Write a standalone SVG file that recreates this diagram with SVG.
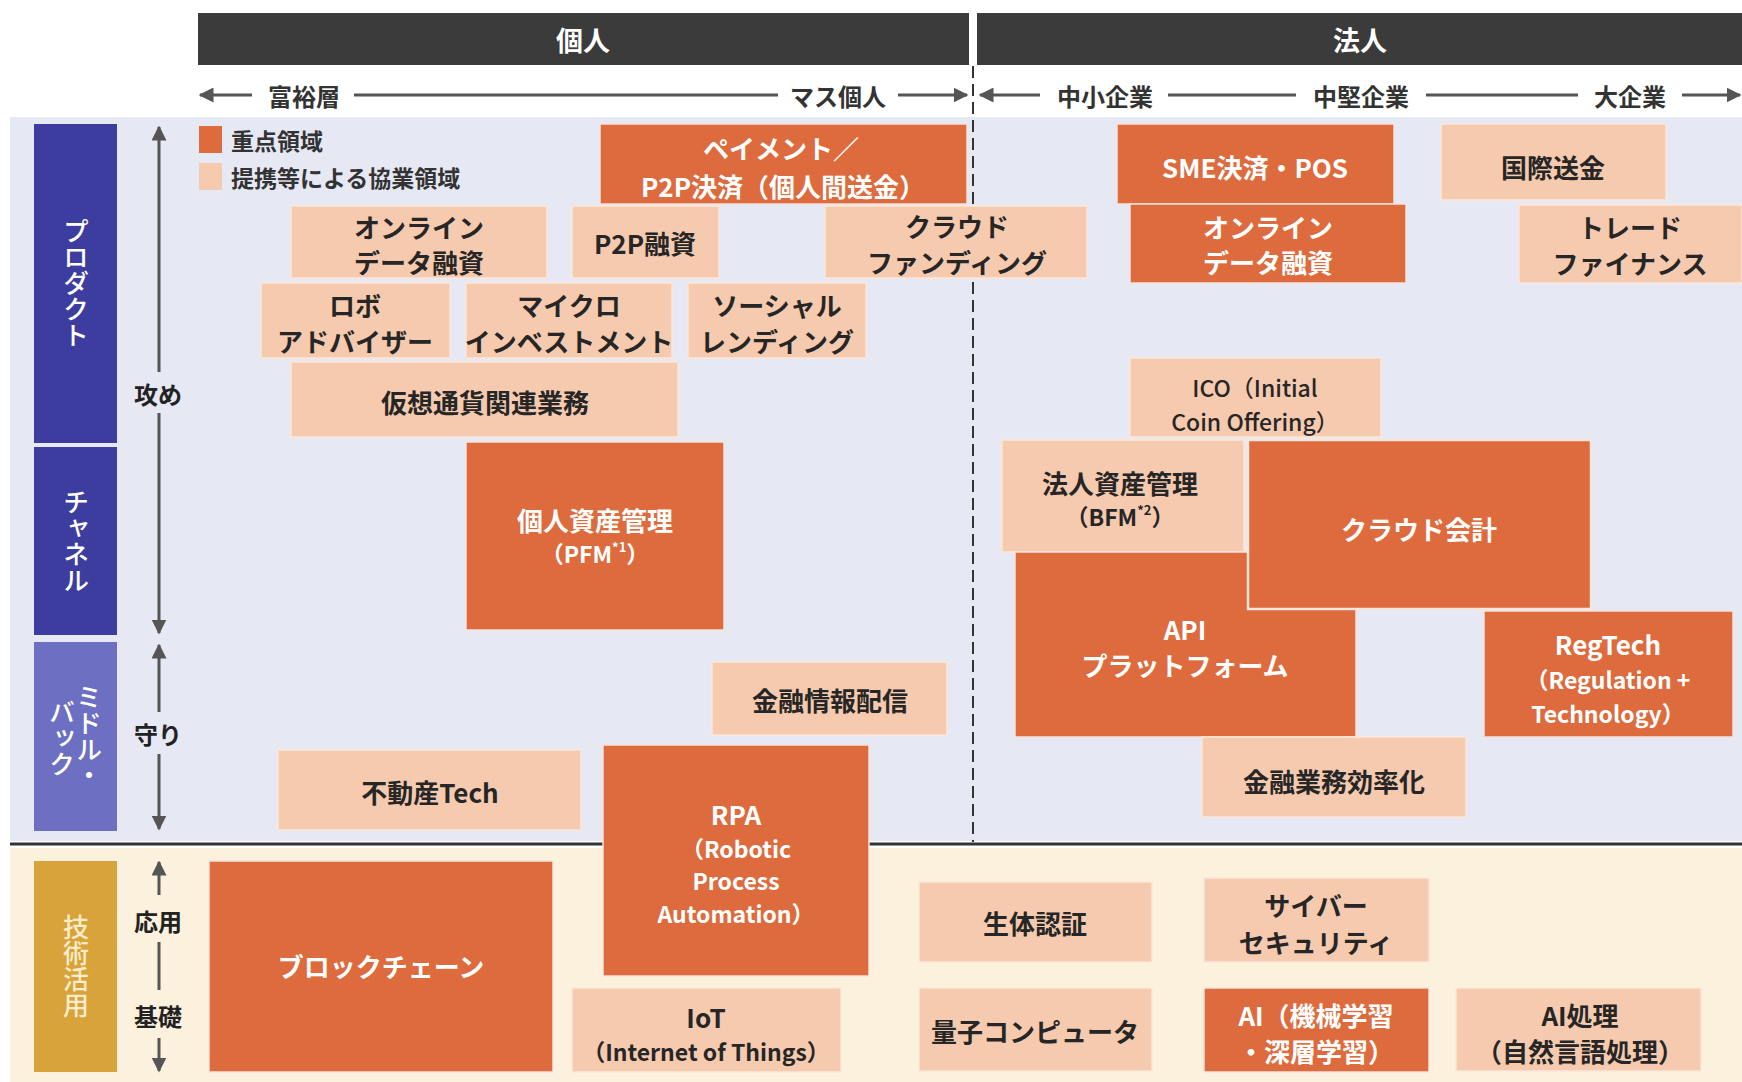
<svg xmlns="http://www.w3.org/2000/svg" width="1742" height="1082" viewBox="0 0 1742 1082">
<style>
text{font-family:"Noto Sans CJK JP","Noto Sans",sans-serif;font-weight:700;dominant-baseline:central;text-anchor:middle}
.dk{fill:#dd6b3d;stroke:#f3e3dc;stroke-width:1.5}
.lt{fill:#f6caae;stroke:#fbe6d8;stroke-width:1.5}
.td{fill:#ffffff;font-size:26px}
.tl{fill:#262626;font-size:26px}
.ts{font-size:23px}
.hd{fill:#fff;font-size:27px}
.ax{fill:#333;font-size:24px}
.lab{fill:#fff;font-size:26px;font-weight:500;writing-mode:vertical-rl}
.arr{stroke:#555;stroke-width:3;fill:none}
.side{fill:#222;font-size:24px}
.sup{font-size:13px}
</style>
<defs>
<marker id="ah" viewBox="0 0 10 10" refX="9" refY="5" markerWidth="5" markerHeight="5" orient="auto-start-reverse" markerUnits="strokeWidth">
<path d="M0,0 L10,5 L0,10 z" fill="#555"/>
</marker>
</defs>
<rect width="1742" height="1082" fill="#ffffff"/>
<g id="backgrounds">
<rect x="10" y="117" width="1732" height="724" fill="#e6e8f4"/>
<rect x="10" y="848" width="1732" height="234" fill="#fcf1dc"/>
</g>
<g id="headers">
<g id="h-kojin"><rect x="198" y="13" width="771" height="52" fill="#3b3b3b"/><text class="hd" x="583" y="39">個人</text></g>
<g id="h-hojin"><rect x="977" y="13" width="765" height="52" fill="#3b3b3b"/><text class="hd" x="1360" y="39">法人</text></g>
</g>
<g id="connectors">
<line class="arr" x1="252" y1="95" x2="200" y2="95" marker-end="url(#ah)"/>
<line class="arr" x1="354" y1="95" x2="778" y2="95"/>
<line class="arr" x1="898" y1="95" x2="967" y2="95" marker-end="url(#ah)"/>
<line class="arr" x1="1040" y1="95" x2="980" y2="95" marker-end="url(#ah)"/>
<line class="arr" x1="1168" y1="95" x2="1296" y2="95"/>
<line class="arr" x1="1426" y1="95" x2="1578" y2="95"/>
<line class="arr" x1="1682" y1="95" x2="1740" y2="95" marker-end="url(#ah)"/>
<line x1="973" y1="66" x2="973" y2="842" stroke="#333" stroke-width="2" stroke-dasharray="12 6"/>
<line x1="10" y1="844" x2="1742" y2="844" stroke="#333" stroke-width="3"/>
<line class="arr" x1="159" y1="372" x2="159" y2="127" marker-end="url(#ah)"/>
<line class="arr" x1="159" y1="413" x2="159" y2="633" marker-end="url(#ah)"/>
<line class="arr" x1="159" y1="712" x2="159" y2="645" marker-end="url(#ah)"/>
<line class="arr" x1="159" y1="754" x2="159" y2="829" marker-end="url(#ah)"/>
<line class="arr" x1="159" y1="895" x2="159" y2="862" marker-end="url(#ah)"/>
<line class="arr" x1="159" y1="942" x2="159" y2="990"/>
<line class="arr" x1="159" y1="1038" x2="159" y2="1071" marker-end="url(#ah)"/>
</g>
<g id="axis-labels">
<text class="ax" x="304" y="95">富裕層</text>
<text class="ax" x="838" y="95">マス個人</text>
<text class="ax" x="1105" y="95">中小企業</text>
<text class="ax" x="1361" y="95">中堅企業</text>
<text class="ax" x="1630" y="95">大企業</text>
<text class="side" x="158" y="393">攻め</text>
<text class="side" x="158" y="733">守り</text>
<text class="side" x="158" y="920">応用</text>
<text class="side" x="158" y="1015">基礎</text>
</g>
<g id="side-labels">
<g id="l-product"><rect x="34" y="124" width="83" height="319" fill="#3c3d9e"/><text class="lab" x="76" y="283">プロダクト</text></g>
<g id="l-channel"><rect x="34" y="447" width="83" height="188" fill="#3c3d9e"/><text class="lab" x="76" y="541">チャネル</text></g>
<g id="l-middle"><rect x="34" y="642" width="83" height="189" fill="#6d6fc2"/><text class="lab" x="89" y="736">ミドル・</text><text class="lab" x="62" y="738">バック</text></g>
<g id="l-tech"><rect x="34" y="861" width="83" height="211" fill="#d8a33a"/><text class="lab" x="76" y="966" style="fill:#fbeccb">技術活用</text></g>
</g>
<g id="legend">
<rect x="199" y="126" width="23" height="27" fill="#dd6b3d"/>
<rect x="199" y="163" width="23" height="27" fill="#f6caae"/>
<text x="231" y="140" style="text-anchor:start;font-size:23px;fill:#333">重点領域</text>
<text x="231" y="177" style="text-anchor:start;font-size:23px;fill:#333">提携等による協業領域</text>
</g>
<g id="n-payment"><rect class="dk" x="600" y="124" width="367" height="80"/><text class="td" x="781" y="147">ペイメント／</text><text class="td" x="783" y="185">P2P決済（個人間送金）</text></g>
<g id="n-online1"><rect class="lt" x="291" y="206" width="256" height="72"/><text class="tl" x="419" y="226">オンライン</text><text class="tl" x="419" y="261">データ融資</text></g>
<g id="n-p2p"><rect class="lt" x="572" y="206" width="147" height="72"/><text class="tl" x="645" y="242">P2P融資</text></g>
<g id="n-crowd"><rect class="lt" x="825" y="206" width="262" height="72"/><text class="tl" x="957" y="225">クラウド</text><text class="tl" x="957" y="261">ファンディング</text></g>
<g id="n-robo"><rect class="lt" x="261" y="283" width="189" height="75"/><text class="tl" x="355" y="304">ロボ</text><text class="tl" x="355" y="340">アドバイザー</text></g>
<g id="n-micro"><rect class="lt" x="466" y="283" width="206" height="75"/><text class="tl" x="569" y="304">マイクロ</text><text class="tl" x="569" y="340">インベストメント</text></g>
<g id="n-social"><rect class="lt" x="688" y="283" width="178" height="75"/><text class="tl" x="777" y="304">ソーシャル</text><text class="tl" x="777" y="340">レンディング</text></g>
<g id="n-kaso"><rect class="lt" x="291" y="362" width="387" height="75"/><text class="tl" x="485" y="401">仮想通貨関連業務</text></g>
<g id="n-pfm"><rect class="dk" x="466" y="442" width="258" height="188"/><text class="td" x="595" y="519">個人資産管理</text><text class="td ts" x="595" y="553">（PFM<tspan class="sup" dy="-7">*1</tspan><tspan dy="7">）</tspan></text></g>
<g id="n-joho"><rect class="lt" x="712" y="662" width="235" height="73"/><text class="tl" x="830" y="699">金融情報配信</text></g>
<g id="n-fudosan"><rect class="lt" x="278" y="750" width="303" height="80"/><text class="tl" x="430" y="791">不動産Tech</text></g>
<g id="n-rpa"><rect class="dk" x="603" y="745" width="266" height="231"/><text class="td" x="736" y="813">RPA</text><text class="td ts" x="736" y="848">（Robotic</text><text class="td ts" x="736" y="880">Process</text><text class="td ts" x="736" y="913">Automation）</text></g>
<g id="n-block"><rect class="dk" x="209" y="861" width="344" height="211"/><text class="td" x="381" y="965">ブロックチェーン</text></g>
<g id="n-iot"><rect class="lt" x="572" y="988" width="269" height="84"/><text class="tl" x="706" y="1016">IoT</text><text class="tl ts" x="706" y="1051">（Internet of Things）</text></g>
<g id="n-seitai"><rect class="lt" x="919" y="882" width="233" height="80"/><text class="tl" x="1035" y="922">生体認証</text></g>
<g id="n-ryoshi"><rect class="lt" x="919" y="988" width="233" height="83"/><text class="tl" x="1035" y="1030">量子コンピュータ</text></g>
<g id="n-cyber"><rect class="lt" x="1204" y="878" width="225" height="84"/><text class="tl" x="1316" y="904">サイバー</text><text class="tl" x="1316" y="941">セキュリティ</text></g>
<g id="n-ai"><rect class="dk" x="1204" y="988" width="225" height="84"/><text class="td" x="1316" y="1014">AI（機械学習</text><text class="td" x="1316" y="1050">・深層学習）</text></g>
<g id="n-aiproc"><rect class="lt" x="1456" y="988" width="245" height="83"/><text class="tl" x="1580" y="1014">AI処理</text><text class="tl" x="1580" y="1050">（自然言語処理）</text></g>
<g id="n-sme"><rect class="dk" x="1117" y="124" width="277" height="80"/><text class="td" x="1255" y="166">SME決済・POS</text></g>
<g id="n-online2"><rect class="dk" x="1130" y="204" width="276" height="79"/><text class="td" x="1268" y="226">オンライン</text><text class="td" x="1268" y="261">データ融資</text></g>
<g id="n-kokusai"><rect class="lt" x="1441" y="124" width="225" height="76"/><text class="tl" x="1553" y="166">国際送金</text></g>
<g id="n-trade"><rect class="lt" x="1519" y="205" width="223" height="78"/><text class="tl" x="1630" y="226">トレード</text><text class="tl" x="1630" y="262">ファイナンス</text></g>
<g id="n-ico"><rect class="lt" x="1130" y="358" width="251" height="79"/><text class="tl ts" x="1255" y="387" style="font-weight:500">ICO（Initial</text><text class="tl ts" x="1255" y="421" style="font-weight:500">Coin Offering）</text></g>
<g id="n-bfm"><rect class="lt" x="1002" y="440" width="242" height="112"/><text class="tl" x="1120" y="482">法人資産管理</text><text class="tl ts" x="1120" y="516">（BFM<tspan class="sup" dy="-7">*2</tspan><tspan dy="7">）</tspan></text></g>
<g id="n-api"><rect class="dk" x="1015" y="552" width="341" height="185"/><text class="td" x="1185" y="628">API</text><text class="td" x="1185" y="664">プラットフォーム</text></g>
<g id="n-cloud"><rect class="dk" x="1248" y="440" width="343" height="169" style="stroke:#f6e6de;stroke-width:2.5"/><text class="td" x="1419" y="528">クラウド会計</text></g>
<g id="n-regtech"><rect class="dk" x="1484" y="611" width="249" height="126"/><text class="td" x="1608" y="643">RegTech</text><text class="td ts" x="1608" y="679">（Regulation +</text><text class="td ts" x="1608" y="713">Technology）</text></g>
<g id="n-gyomu"><rect class="lt" x="1202" y="737" width="264" height="80"/><text class="tl" x="1334" y="780">金融業務効率化</text></g>
</svg>
